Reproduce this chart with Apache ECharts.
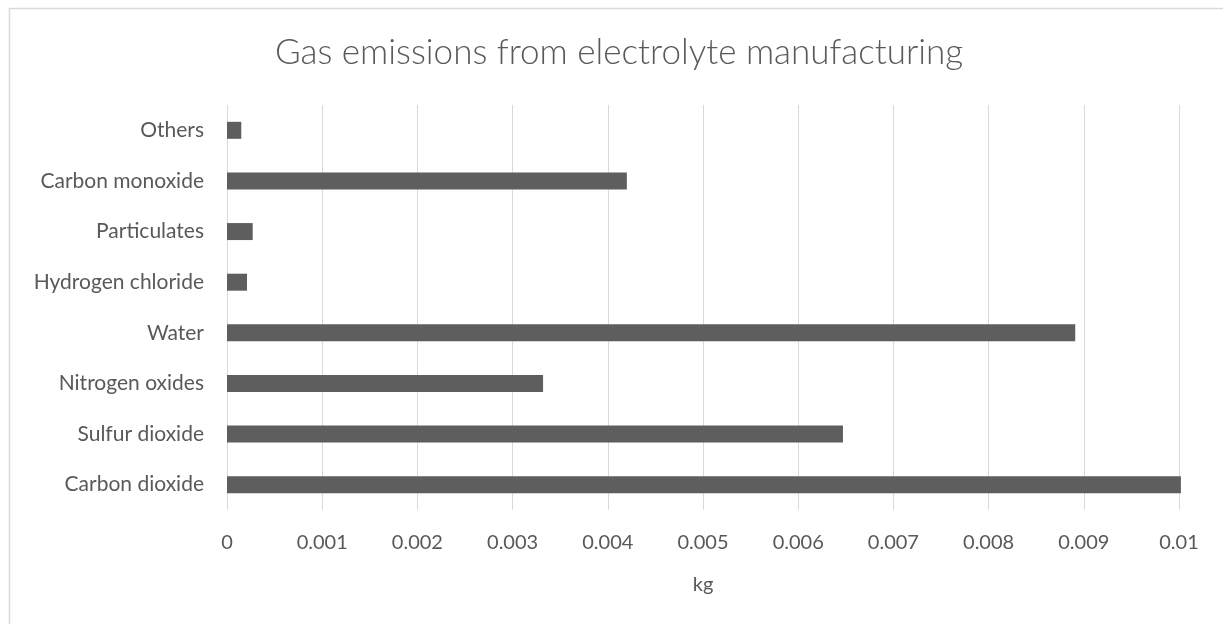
<!DOCTYPE html>
<html>
<head>
<meta charset="utf-8">
<script src="https://cdn.jsdelivr.net/npm/echarts@6/dist/echarts.min.js"></script>
<style>
  html, body { margin: 0; padding: 0; background: #fff; }
  #chart { width: 1223px; height: 624px; }
</style>
</head>
<body>
<div id="chart"></div>
<script>
// Emission categories, bottom to top
const categories = [
  'Carbon dioxide',
  'Sulfur dioxide',
  'Nitrogen oxides',
  'Water',
  'Hydrogen chloride',
  'Particulates',
  'Carbon monoxide',
  'Others'
];

// Mass emitted per category, kg
const emissionsKg = [0.01002, 0.00647, 0.00332, 0.00891, 0.00021, 0.00027, 0.0042, 0.00015];

// Value axis ticks
const xTicks = [0, 0.001, 0.002, 0.003, 0.004, 0.005, 0.006, 0.007, 0.008, 0.009, 0.01];

const titleText = 'Gas emissions from electrolyte manufacturing';
const xAxisName = 'kg';

const FONT = 'Lato, "Open Sans", sans-serif';
const TEXT = '#595959';

const chart = echarts.init(document.getElementById('chart'), null, { renderer: 'canvas' });

chart.setOption({
  animation: false,
  backgroundColor: '#ffffff',
  graphic: [{
    type: 'rect',
    left: 7, top: 6,
    shape: { width: 1300, height: 700 },
    style: { fill: 'none', stroke: '#d9d9d9', lineWidth: 1.5 },
    silent: true
  }],
  title: {
    text: titleText,
    left: 270,
    top: 30,
    textStyle: { fontFamily: FONT, fontWeight: 300, fontSize: 35, color: TEXT }
  },
  grid: { left: 227, right: 44, top: 105, bottom: 114, containLabel: false },
  xAxis: {
    type: 'value',
    min: xTicks[0],
    max: xTicks[xTicks.length - 1],
    interval: 0.001,
    name: xAxisName,
    nameLocation: 'middle',
    nameGap: 65,
    nameTextStyle: { fontFamily: FONT, fontSize: 20, color: TEXT },
    axisLine: { show: false },
    axisTick: { show: false },
    axisLabel: {
      margin: 23,
      fontFamily: FONT, fontSize: 20, color: TEXT,
      formatter: v => {
        const t = xTicks.find(x => Math.abs(x - v) < 1e-9);
        return String(t !== undefined ? t : v);
      }
    },
    splitLine: { show: true, lineStyle: { color: '#d9d9d9', width: 1 } }
  },
  yAxis: {
    type: 'category',
    data: categories,
    axisLine: { show: false },
    axisTick: { show: false },
    axisLabel: { margin: 23, fontFamily: FONT, fontSize: 21, color: TEXT }
  },
  series: [{
    type: 'bar',
    data: emissionsKg,
    barWidth: 17,
    clip: false,
    itemStyle: { color: '#5e5e5e' }
  }]
});
</script>
</body>
</html>
